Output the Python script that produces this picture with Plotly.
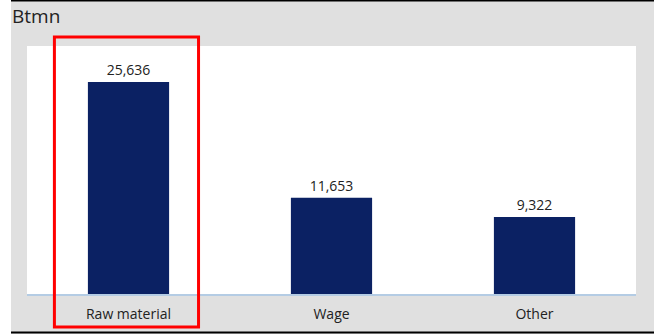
import plotly.graph_objects as go

# Cost breakdown, Btmn
categories = ["Raw material", "Wage", "Other"]
values = [25636, 11653, 9322]
unit_label = "Btmn"

W, H = 657, 334
ML, MR, MT, MB = 27, 21, 46, 40
PW, PH = W - ML - MR, H - MT - MB

FONT = "Open Sans"


def px_x(p):
    return (p - ML) / PW


def px_y(p):
    return (H - MB - p) / PH


fig = go.Figure(
    go.Bar(
        x=categories,
        y=values,
        width=0.4,
        marker=dict(color="#0b2163", line=dict(width=0)),
        text=values,
        texttemplate="%{y:,}",
        textposition="outside",
        textfont=dict(family=FONT, size=14, color="#222222"),
        cliponaxis=False,
        hoverinfo="skip",
    )
)

shapes = [
    # white strips at the outer left / right edges
    dict(type="rect", xref="paper", yref="paper", x0=px_x(0), x1=px_x(11),
         y0=px_y(H), y1=px_y(0), fillcolor="white", line=dict(width=0), layer="above"),
    dict(type="rect", xref="paper", yref="paper", x0=px_x(654), x1=px_x(W),
         y0=px_y(H), y1=px_y(0), fillcolor="white", line=dict(width=0), layer="above"),
    # black rules at top and bottom
    dict(type="line", xref="paper", yref="paper", x0=px_x(11), x1=px_x(654),
         y0=px_y(0.75), y1=px_y(0.75), line=dict(color="black", width=1.5)),
    dict(type="line", xref="paper", yref="paper", x0=px_x(11), x1=px_x(654),
         y0=px_y(332.5), y1=px_y(332.5), line=dict(color="black", width=2)),
    # highlight box around the first category
    dict(type="rect", xref="x", yref="paper", x0=-0.365, x1=0.345,
         y0=px_y(327), y1=px_y(37), line=dict(color="#ff0000", width=3),
         fillcolor="rgba(0,0,0,0)", layer="above"),
]

fig.update_layout(
    width=W,
    height=H,
    margin=dict(l=ML, r=MR, t=MT, b=MB, pad=0, autoexpand=False),
    paper_bgcolor="#e0e0e0",
    plot_bgcolor="white",
    showlegend=False,
    shapes=shapes,
    font=dict(family=FONT, color="#222222"),
    annotations=[
        dict(text=unit_label, xref="paper", yref="paper", x=px_x(10), y=px_y(1),
             xanchor="left", yanchor="top", showarrow=False,
             font=dict(family=FONT, size=19, color="#222222")),
    ],
    bargap=0.6,
)

fig.update_xaxes(
    automargin=False,
    showgrid=False,
    showline=True,
    linecolor="#b4cce4",
    linewidth=1.5,
    ticks="",
    ticklabelstandoff=6,
    tickfont=dict(family=FONT, size=14, color="#222222"),
    fixedrange=True,
)
fig.update_yaxes(
    automargin=False,
    range=[0, 30000],
    showgrid=False,
    showticklabels=False,
    zeroline=False,
    showline=False,
    ticks="",
    fixedrange=True,
)

fig.write_html("out.html", config=dict(displayModeBar=False))
